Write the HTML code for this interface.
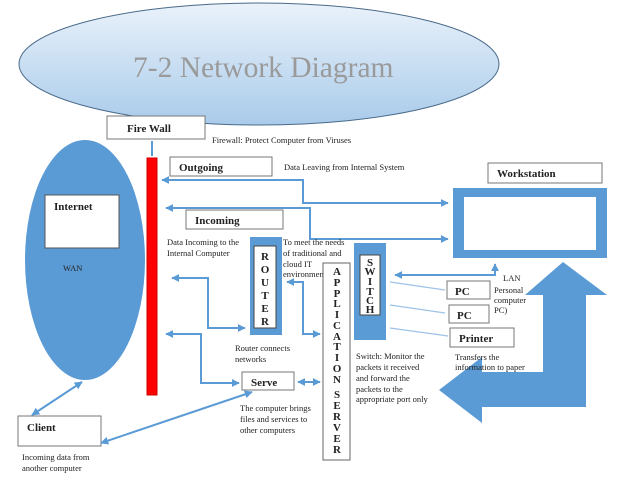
<!DOCTYPE html>
<html><head><meta charset="utf-8"><style>
html,body{margin:0;padding:0;background:#fff;}
svg{display:block;}
text{font-family:"Liberation Serif",serif;}
.s{font-size:8.5px;fill:#222;}
.b{font-size:11px;font-weight:bold;fill:#222;}
.box{fill:#fff;stroke:#777;stroke-width:1;}
.ln{stroke:#5b9bd5;stroke-width:2;fill:none;}
.th{stroke:#9dc3e6;stroke-width:1.3;fill:none;}
</style></head><body>
<svg width="638" height="479" viewBox="0 0 638 479" xmlns="http://www.w3.org/2000/svg">
<defs>
<linearGradient id="g" x1="0" y1="0" x2="0" y2="1">
<stop offset="0" stop-color="#eaf2fb"/><stop offset="1" stop-color="#a9cbea"/></linearGradient>
<marker id="a" viewBox="0 0 10 10" refX="9" refY="5" markerWidth="4" markerHeight="4" orient="auto-start-reverse">
<path d="M0,0 L10,5 L0,10 z" fill="#5b9bd5"/></marker>
</defs>
<ellipse cx="259" cy="64" rx="240" ry="61" fill="url(#g)" stroke="#4a6a8a" stroke-width="1"/>
<text x="133" y="77" font-size="29.5" fill="#9a9a9a">7-2 Network Diagram</text>

<rect class="box" x="107" y="116" width="98" height="23"/>
<text class="b" x="127" y="132" font-size="12">Fire Wall</text>
<text class="s" x="212" y="143">Firewall: Protect Computer from Viruses</text>
<line x1="152" y1="141" x2="152" y2="156" stroke="#5b9bd5" stroke-width="2"/>
<rect x="147" y="158" width="10" height="237" fill="#ff0000" stroke="#c00" stroke-width="1"/>

<ellipse cx="85" cy="260" rx="60" ry="120" fill="#5b9bd5"/>
<rect x="45" y="195" width="74" height="53" fill="#fff" stroke="#555"/>
<text class="b" x="54" y="210">Internet</text>
<text class="s" x="63" y="271" font-size="9">WAN</text>

<rect class="box" x="170" y="157" width="102" height="19"/>
<text class="b" x="179" y="171">Outgoing</text>
<text class="s" x="284" y="170">Data Leaving from Internal System</text>
<rect class="box" x="186" y="210" width="97" height="19"/>
<text class="b" x="195" y="224">Incoming</text>
<text class="s" x="167" y="245">Data Incoming to the</text>
<text class="s" x="167" y="256">Internal Computer</text>

<polyline class="ln" points="162,180 303,180 303,203 448,203" marker-start="url(#a)" marker-end="url(#a)"/>
<polyline class="ln" points="166,208 310,208 310,239 448,239" marker-start="url(#a)" marker-end="url(#a)"/>

<rect x="488" y="163" width="114" height="20" class="box"/>
<text class="b" x="497" y="177">Workstation</text>
<rect x="453" y="188" width="154" height="70" fill="#5b9bd5"/>
<rect x="464" y="197" width="132" height="53" fill="#fff"/>

<rect x="250" y="237" width="32" height="98" fill="#5b9bd5"/>
<rect x="254" y="246" width="22" height="82" fill="#fff" stroke="#444"/>
<g class="b" text-anchor="middle" font-size="12">
<text x="265" y="260">R</text><text x="265" y="273">O</text><text x="265" y="286">U</text><text x="265" y="299">T</text><text x="265" y="312">E</text><text x="265" y="325">R</text>
</g>
<text class="s" x="283" y="245">To meet the needs</text>
<text class="s" x="283" y="256">of traditional and</text>
<text class="s" x="283" y="267">cloud IT</text>
<text class="s" x="283" y="277">environments</text>

<rect x="323" y="263" width="27" height="197" fill="#fff" stroke="#666"/>
<g class="b" text-anchor="middle" font-size="10">
<text x="337" y="275">A</text><text x="337" y="286">P</text><text x="337" y="297">P</text><text x="337" y="307">L</text><text x="337" y="318">I</text><text x="337" y="329">C</text><text x="337" y="340">A</text><text x="337" y="350">T</text><text x="337" y="361">I</text><text x="337" y="372">O</text><text x="337" y="383">N</text>
<text x="337" y="398">S</text><text x="337" y="409">E</text><text x="337" y="420">R</text><text x="337" y="431">V</text><text x="337" y="442">E</text><text x="337" y="453">R</text>
</g>

<rect x="354" y="243" width="32" height="97" fill="#5b9bd5"/>
<rect x="360" y="255" width="20" height="60" fill="#fff" stroke="#444"/>
<g class="b" text-anchor="middle" font-size="8">
<text x="370" y="266">S</text><text x="370" y="275">W</text><text x="370" y="285">I</text><text x="370" y="295">T</text><text x="370" y="304">C</text><text x="370" y="313">H</text>
</g>

<polyline class="ln" points="395,275 495,275 495,264" marker-start="url(#a)" marker-end="url(#a)"/>
<text class="s" x="503" y="281" font-size="10">LAN</text>
<line class="th" x1="390" y1="282" x2="445" y2="290"/>
<line class="th" x1="390" y1="305" x2="445" y2="313"/>
<line class="th" x1="390" y1="328" x2="448" y2="336"/>
<rect class="box" x="447" y="281" width="43" height="18"/><text class="b" x="455" y="295">PC</text>
<rect class="box" x="449" y="305" width="40" height="18"/><text class="b" x="457" y="319">PC</text>
<rect class="box" x="450" y="328" width="64" height="19"/><text class="b" x="459" y="342">Printer</text>
<text class="s" x="494" y="293">Personal</text>
<text class="s" x="494" y="303">computer</text>
<text class="s" x="494" y="313">PC)</text>

<polygon fill="#5b9bd5" points="563,262 607,295 586,295 586,407 482,407 482,423 439,390 482,357 482,372 543,372 543,295 525,295"/>
<text class="s" x="455" y="360">Transfers the</text>
<text class="s" x="455" y="370">information to paper</text>

<polyline class="ln" points="172,278 208,278 208,328 245,328" marker-start="url(#a)" marker-end="url(#a)"/>
<polyline class="ln" points="166,334 201,334 201,383 239,383" marker-start="url(#a)" marker-end="url(#a)"/>
<polyline class="ln" points="287,282 303,282 303,334 320,334" marker-start="url(#a)" marker-end="url(#a)"/>
<text class="s" x="235" y="351">Router connects</text>
<text class="s" x="235" y="362">networks</text>
<text class="s" x="356" y="359">Switch: Monitor the</text>
<text class="s" x="356" y="370">packets it received</text>
<text class="s" x="356" y="381">and forward the</text>
<text class="s" x="356" y="392">packets to the</text>
<text class="s" x="356" y="402">appropriate port only</text>

<rect class="box" x="242" y="372" width="52" height="18"/><text class="b" x="251" y="386">Serve</text>
<line class="ln" x1="298" y1="382" x2="320" y2="382" marker-start="url(#a)" marker-end="url(#a)"/>
<text class="s" x="240" y="411">The computer brings</text>
<text class="s" x="240" y="422">files and services to</text>
<text class="s" x="240" y="433">other computers</text>

<rect class="box" x="18" y="416" width="83" height="30"/><text class="b" x="27" y="431">Client</text>
<line class="ln" x1="32" y1="415" x2="82" y2="382" marker-start="url(#a)" marker-end="url(#a)"/>
<line class="ln" x1="101" y1="443" x2="252" y2="392" marker-start="url(#a)" marker-end="url(#a)" stroke-width="1.5"/>
<text class="s" x="22" y="460">Incoming data from</text>
<text class="s" x="22" y="471">another computer</text>
</svg>
</body></html>
